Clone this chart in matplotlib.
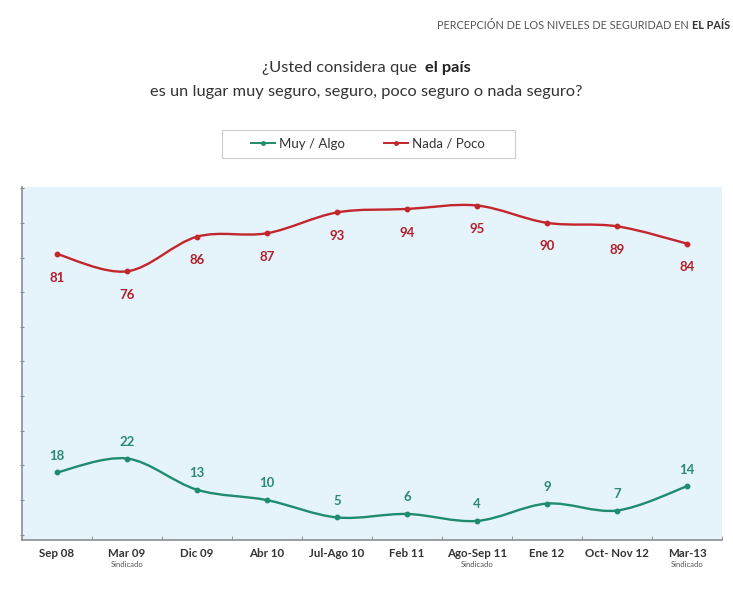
import matplotlib
matplotlib.use("Agg")
import matplotlib.pyplot as plt
from matplotlib.path import Path
from matplotlib.patches import PathPatch, Rectangle
from matplotlib.lines import Line2D
import numpy as np

periods = ["Sep 08", "Mar 09", "Dic 09", "Abr 10", "Jul-Ago 10", "Feb 11",
           "Ago-Sep 11", "Ene 12", "Oct- Nov 12", "Mar-13"]
sub_notes = ["", "Sindicado", "", "", "", "", "Sindicado", "", "", "Sindicado"]
muy_algo = [18, 22, 13, 10, 5, 6, 4, 9, 7, 14]
nada_poco = [81, 76, 86, 87, 93, 94, 95, 90, 89, 84]

RED = "#c3262c"
RED_TXT = "#b0202a"
GREEN = "#1f8c6e"
GREEN_TXT = "#2a8a72"
FONT = ["Lato", "DejaVu Sans"]

plt.rcParams["font.family"] = FONT

fig = plt.figure(figsize=(7.33, 5.96), dpi=100)
fig.patch.set_facecolor("white")
ax = fig.add_axes([0.030, 0.094, 0.955, 0.592])
ax.set_facecolor("#e5f3fb")


def smooth_path(xs, ys):
    """Cubic Bezier path through the points (Catmull-Rom style control points)."""
    xs = np.asarray(xs, float)
    ys = np.asarray(ys, float)
    n = len(xs)
    verts = [(xs[0], ys[0])]
    codes = [Path.MOVETO]
    for i in range(n - 1):
        p0 = i - 1 if i > 0 else i
        p3 = i + 2 if i + 2 < n else i + 1
        c1 = (xs[i] + (xs[i + 1] - xs[p0]) / 6, ys[i] + (ys[i + 1] - ys[p0]) / 6)
        c2 = (xs[i + 1] - (xs[p3] - xs[i]) / 6, ys[i + 1] - (ys[p3] - ys[i]) / 6)
        verts += [c1, c2, (xs[i + 1], ys[i + 1])]
        codes += [Path.CURVE4] * 3
    return Path(verts, codes)


x = np.arange(len(periods))
for vals, col in ((nada_poco, RED), (muy_algo, GREEN)):
    ax.add_patch(PathPatch(smooth_path(x, vals), facecolor="none",
                           edgecolor=col, lw=1.7, zorder=3))
    ax.plot(x, vals, ls="none", marker="o", ms=3.2, color=col, zorder=4)

for xi, v in zip(x, nada_poco):
    ax.annotate(str(v), (xi, v), xytext=(0, -17), textcoords="offset points",
                ha="center", va="center", color=RED_TXT, fontsize=9.5,
                fontweight="bold")
for xi, v in zip(x, muy_algo):
    ax.annotate(str(v), (xi, v), xytext=(0, 12), textcoords="offset points",
                ha="center", va="center", color=GREEN_TXT, fontsize=9.5,
                fontweight="bold")

ax.set_xlim(-0.5, len(periods) - 0.5)
ax.set_ylim(-1.5, 100.3)

ax.set_xticks(x)
ax.set_xticklabels(periods, fontsize=8.3, fontweight="bold", color="#333333")
ax.tick_params(axis="x", length=0, pad=6)
ax.set_xticks(np.arange(-0.5, len(periods), 1), minor=True)
ax.tick_params(axis="x", which="minor", length=3, color="#888888", direction="in")
ax.set_yticks(np.arange(0, 101, 10))
ax.set_yticklabels([])
ax.tick_params(axis="y", length=3, color="#888888", direction="inout")

for s in ("top", "right"):
    ax.spines[s].set_visible(False)
for s in ("left", "bottom"):
    ax.spines[s].set_color("#8a8f94")
    ax.spines[s].set_linewidth(1.2)

for xi, note in zip(x, sub_notes):
    if note:
        ax.annotate(note, (xi, 0), xycoords=("data", "axes fraction"),
                    xytext=(0, -17.5), textcoords="offset points",
                    ha="center", va="center", fontsize=5.5, color="#555555")

# Header
hdr1 = "PERCEPCIÓN DE LOS NIVELES DE SEGURIDAD EN "
hdr2 = "EL PAÍS"
t2 = fig.text(0.996, 0.958, hdr2, ha="right", va="center", fontsize=7.8,
              color="#333333", fontweight="bold")
fig.canvas.draw()
bb = t2.get_window_extent()
fig.text(bb.x0 / fig.bbox.width, 0.958, hdr1, ha="right", va="center",
         fontsize=7.8, color="#555555")

# Question
q1a = "¿Usted considera que  "
q1b = "el país"
ta = fig.text(0.5, 0.886, q1a, ha="right", va="center", fontsize=11.8, color="#333333")
fig.canvas.draw()
wa = ta.get_window_extent().width
tb = fig.text(0.5, 0.886, q1b, ha="left", va="center", fontsize=11.8,
              color="#222222", fontweight="bold")
fig.canvas.draw()
wb = tb.get_window_extent().width
shift = (wa - wb) / 2 / fig.bbox.width
ta.set_x(0.5 + shift)
tb.set_x(0.5 + shift)
fig.text(0.5, 0.846, "es un lugar muy seguro, seguro, poco seguro o nada seguro?",
         ha="center", va="center", fontsize=11.8, color="#333333")

# Legend with its own wide frame
fig.add_artist(Rectangle((222 / 733, 1 - 158 / 596), 293 / 733, 28 / 596,
                         transform=fig.transFigure, facecolor="white",
                         edgecolor="#cccccc", lw=0.8))
handles = [Line2D([], [], color=GREEN, lw=1.4, marker="o", ms=2.5),
           Line2D([], [], color=RED, lw=1.4, marker="o", ms=2.5)]
leg = fig.legend(handles, ["Muy / Algo", "Nada / Poco"], loc="center",
                 bbox_to_anchor=(0.502, 1 - 144 / 596), ncol=2, frameon=False,
                 fontsize=9.5, handlelength=1.8, handletextpad=0.3,
                 columnspacing=3.0)
for t in leg.get_texts():
    t.set_color("#333333")

fig.savefig("out.png", dpi=100, facecolor="white")
